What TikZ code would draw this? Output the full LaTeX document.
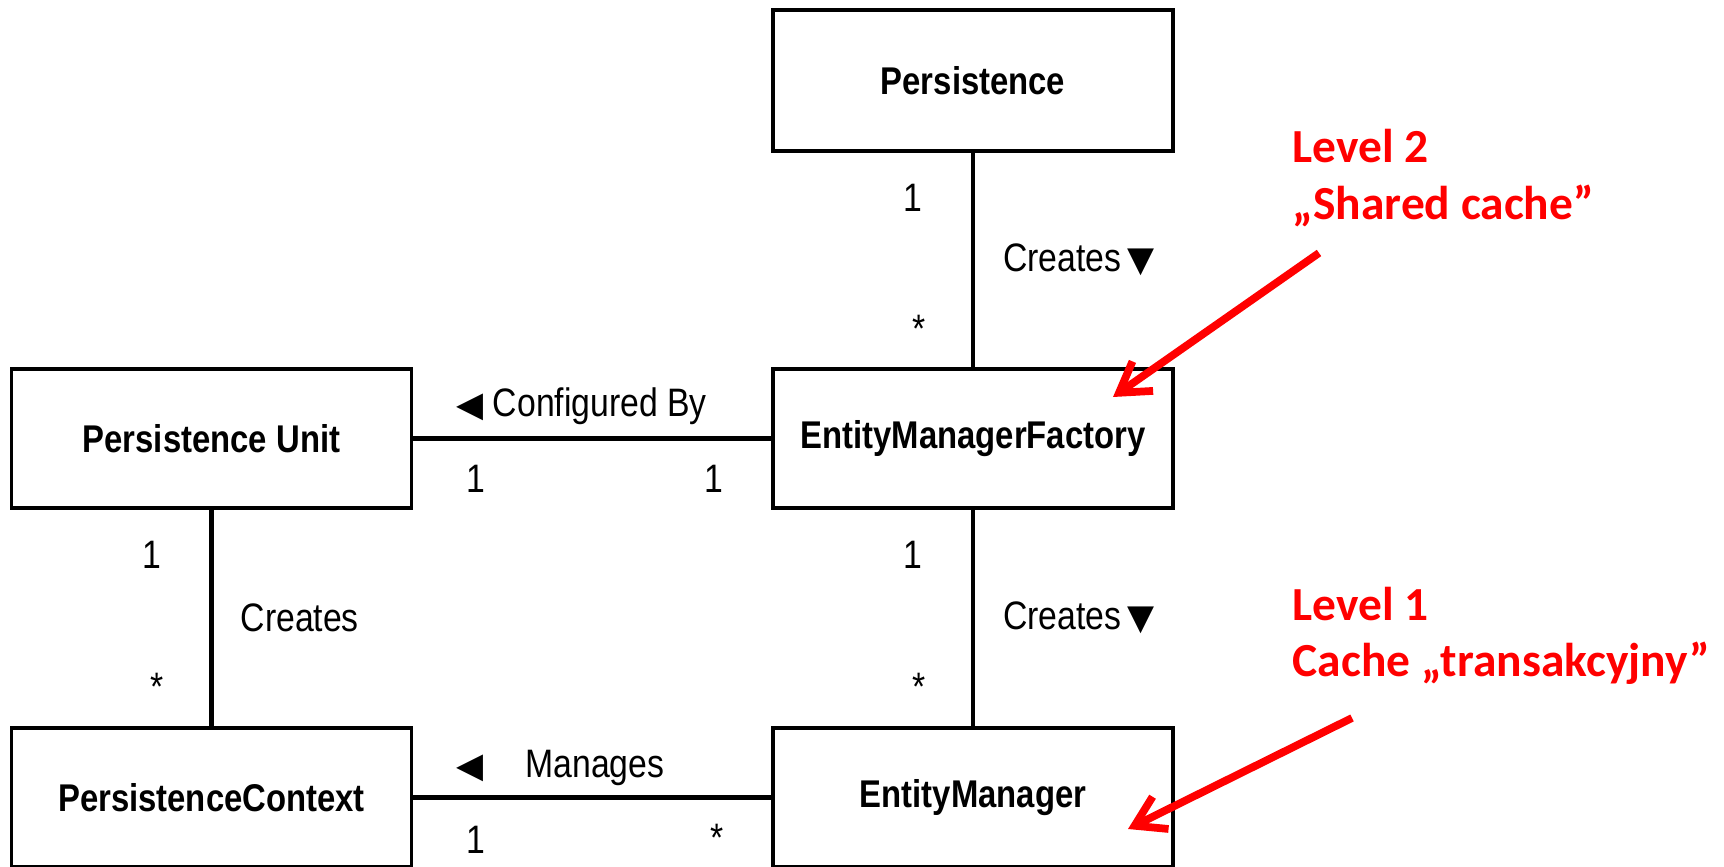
\documentclass[tikz,border=0pt]{standalone}
\usepackage{fontspec}
\setmainfont{Liberation Sans}[FakeStretch=0.85]
\newfontfamily\symfont{DejaVu Sans}
\newfontfamily\notefont{Carlito}
\usetikzlibrary{arrows.meta}

\begin{document}
\begin{tikzpicture}[
  box/.style = {draw, line width = 1pt, minimum width = 4cm, minimum height = 1.39cm,
    inner sep = 0pt, font = \fontsize{11}{13}\selectfont\bfseries},
  link/.style = {line width = 1.2pt},
  lbl/.style = {font = \fontsize{11.3}{13}\selectfont, inner sep = 1pt},
  note/.style = {font = \notefont\fontsize{13.5}{16}\selectfont\bfseries, text = red, inner sep = 0pt},
  hint/.style = {draw = red, line width = 2.2pt, -{Straight Barb[length = 2.9mm, width = 3.6mm]}}
]
  \useasboundingbox (0, 0) rectangle (17.24, 8.67);
  % classes
  \node [box, minimum height = 1.41cm] (pers) at (9.73, 7.865) {Persistence};
  \node [box] (emf) at (9.73, 4.285) {EntityManagerFactory};
  \node [box] (pu) at (2.115, 4.285) {Persistence Unit};
  \node [box] (pc) at (2.115, 0.695) {PersistenceContext};
  \node [box] (em) at (9.73, 0.695) {EntityManager};
  % associations
  \draw [link] (pers) -- (emf)
    node [lbl, pos = 0.21, left = 4.5mm] {1}
    node [lbl, pos = 0.5, right = 2.45mm] {Creates\,{\symfont\fontsize{10}{10}\selectfont ▼}}
    node [lbl, pos = 0.82, left = 4.2mm] {*};
  \draw [link] (emf) -- (em)
    node [lbl, pos = 0.21, left = 4.5mm] {1}
    node [lbl, pos = 0.5, right = 2.45mm] {Creates\,{\symfont\fontsize{10}{10}\selectfont ▼}}
    node [lbl, pos = 0.82, left = 4.2mm] {*};
  \draw [link] (pu) -- (pc)
    node [lbl, pos = 0.21, left = 4.5mm] {1}
    node [lbl, pos = 0.5, right = 2.35mm] {Creates}
    node [lbl, pos = 0.82, left = 4.2mm] {*};
  \draw [link] (pu) -- (emf)
    node [lbl, pos = 0.105, anchor = base west, yshift = 2.2mm] {{\symfont\fontsize{10}{10}\selectfont ◀}\ Configured By}
    node [lbl, pos = 0.175, below = 2.1mm] {1}
    node [lbl, pos = 0.84, below = 2.1mm] {1};
  \draw [link] (pc) -- (em)
    node [lbl, pos = 0.105, anchor = base west, yshift = 2.0mm] {{\symfont\fontsize{10}{10}\selectfont ◀}\hspace{4.2mm}Manages}
    node [lbl, pos = 0.175, below = 2.3mm] {1}
    node [lbl, pos = 0.85, below = 2.1mm] {*};
  % cache levels
  \node [note, anchor = base west] (lvltwo) at (12.92, 7.04) {Level 2};
  \node [note, anchor = base west] (shared) at (12.92, 6.47) {„Shared cache”};
  \node [note, anchor = base west] (lvlone) at (12.92, 2.46) {Level 1};
  \node [note, anchor = base west] (transc) at (12.92, 1.90) {Cache „transakcyjny”};
  \coordinate (tailtwo) at (13.19, 6.14);
  \coordinate (tiptwo) at (11.13, 4.70);
  \coordinate (tailone) at (13.52, 1.49);
  \coordinate (tipone) at (11.28, 0.38);
  \draw [hint] (tailtwo) -- (tiptwo);
  \draw [hint] (tailone) -- (tipone);
\end{tikzpicture}
\end{document}
